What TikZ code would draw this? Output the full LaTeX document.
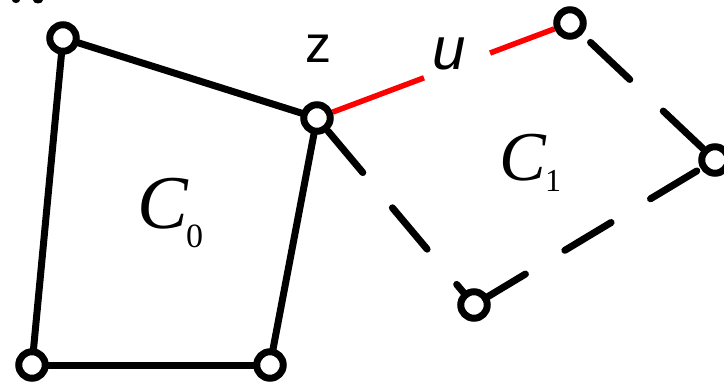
\documentclass[tikz,border=0pt]{standalone}
\usepackage{fontspec}
\setmainfont{Liberation Serif}
\newfontfamily\arialfont{Liberation Sans}
\usetikzlibrary{calc}
\begin{document}
\begin{tikzpicture}[x=1pt,y=-1pt,
  vtx/.style={circle,draw=black,fill=white,line width=7pt,minimum size=26.5pt,inner sep=0pt,outer sep=0pt},
  solidedge/.style={line width=7pt,black},
  dashedge/.style={line width=7pt,black,line cap=round,dash pattern=on 54pt off 46pt},
  redline/.style={line width=5.5pt,red},
  lbl/.style={inner sep=0pt,anchor=base west}]
\useasboundingbox (0,0) rectangle (724,385);
% small fragments at top-left
\fill[black] (16,0) ellipse (4pt and 3pt);
\fill[black] (38,0) ellipse (5pt and 3.5pt);
% vertices
\node[vtx] (A)  at (63,38) {};
\node[vtx] (Z)  at (317,118) {};
\node[vtx] (B)  at (32,365) {};
\node[vtx] (Cb) at (270,365) {};
\node[vtx] (U)  at (570,23) {};
\node[vtx] (R)  at (715,160) {};
\node[vtx] (Bt) at (474,305) {};
% cycle C0
\draw[solidedge] (A) -- (Z);
\draw[solidedge] (A) -- (B);
\draw[solidedge] (B) -- (Cb);
\draw[solidedge] (Z) -- (Cb);
% cycle C1 (dashed)
\draw[dashedge,dash phase=96pt] (Z) -- (Bt);
\draw[dashedge,dash phase=85pt] (U) -- (R);
\draw[dashedge,dash phase=92pt] (R) -- (Bt);
% red edge zu
\coordinate (r1) at ($(Z.center)!0.423!(U.center)$);
\coordinate (r2) at ($(Z.center)!0.684!(U.center)$);
\draw[redline,shorten <=3.5pt] (Z) -- (r1);
\draw[redline,shorten >=3.5pt] (r2) -- (U);
% labels
\node[lbl,font=\arialfont\fontsize{52}{52}\selectfont] (zl) at (305,63) {z};
\node[lbl,font=\arialfont\itshape\fontsize{60}{60}\selectfont] (ul) at (432,70) {u};
\node[lbl,font=\itshape\fontsize{76}{76}\selectfont] (c0) at (137,229) {C};
\node[lbl,font=\fontsize{34}{34}\selectfont] (c0s) at (186,248) {0};
\node[lbl,font=\itshape\fontsize{70}{70}\selectfont] (c1) at (499,181) {C};
\node[lbl,font=\fontsize{32}{32}\selectfont] (c1s) at (545,192) {1};
\end{tikzpicture}
\end{document}
